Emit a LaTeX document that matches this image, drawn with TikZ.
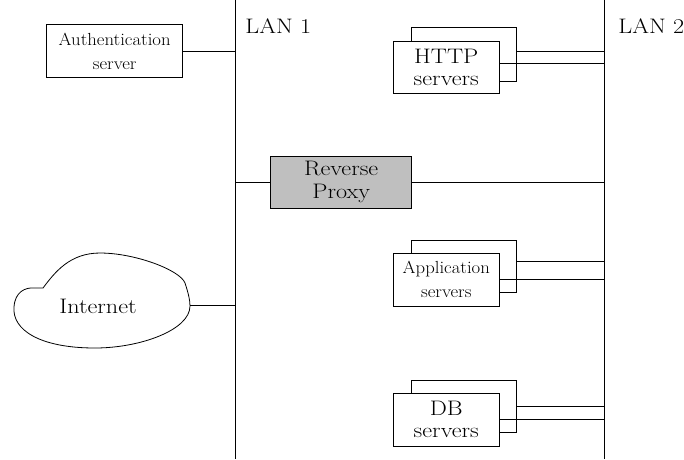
\documentclass[tikz,border=0pt]{standalone}
\usepackage{fontspec}
\setmainfont{Latin Modern Roman}[FakeStretch=1.15]
\newfontfamily\smallfnt{Latin Modern Roman}[FakeStretch=1.07]
\begin{document}
\begin{tikzpicture}[x=1pt,y=-1pt,line width=0.8pt,
  box/.style={draw,fill=white,inner sep=0pt,align=center},
  big/.style={font=\fontsize{21}{22.5}\selectfont},
  small/.style={font=\smallfnt\fontsize{17.5}{24}\selectfont},
  conn/.style={draw}]
\useasboundingbox (0,0) rectangle (684,459);
% LAN lines
\coordinate (l1t) at (235,0); \coordinate (l1b) at (235,459);
\coordinate (l2t) at (604,0); \coordinate (l2b) at (604,459);
\draw (l1t) -- (l1b);
\draw (l2t) -- (l2b);
\node[big,anchor=base west,inner sep=0pt] (lan1) at (245,33) {LAN 1};
\node[big,anchor=base west,inner sep=0pt] (lan2) at (618,33) {LAN 2};
% Authentication server
\node[box,small,minimum width=136,minimum height=53] (auth) at (114.7,51) {Authentication\\server};
\draw (auth.east) -- (auth.east -| l1t);
% HTTP servers
\node[box,minimum width=105,minimum height=54] (httpB) at (464.2,54.5) {};
\draw ([yshift=3.5pt]httpB.east) -- ([yshift=3.5pt]httpB.east -| l2t);
\node[box,big,minimum width=106,minimum height=52] (httpF) at (446.3,67.5) {HTTP\\servers};
\draw ([yshift=4.5pt]httpF.east) -- ([yshift=4.5pt]httpF.east -| l2t);
% Reverse proxy
\node[box,big,fill=black!25,minimum width=141,minimum height=52] (proxy) at (341.2,182.2) {Reverse\\Proxy};
\draw (proxy.west) -- (proxy.west -| l1t);
\draw (proxy.east) -- (proxy.east -| l2t);
% Application servers
\node[box,minimum width=105,minimum height=52] (appB) at (464.2,266) {};
\draw ([yshift=4.3pt]appB.east) -- ([yshift=4.3pt]appB.east -| l2t);
\node[box,small,minimum width=106,minimum height=53] (appF) at (446.3,279.5) {Application\\servers};
\draw (appF.east) -- (appF.east -| l2t);
% DB servers
\node[box,minimum width=105,minimum height=52] (dbB) at (464.2,406) {};
\draw ([yshift=-0.7pt]dbB.east) -- ([yshift=-0.7pt]dbB.east -| l2t);
\node[box,big,minimum width=106,minimum height=53] (dbF) at (446.3,419.5) {DB\\servers};
\draw (dbF.east) -- (dbF.east -| l2t);
% Internet cloud
\draw (43,288) .. controls (55,272) and (70,253) .. (100,253)
  .. controls (135,253) and (180,270) .. (185,283)
  .. controls (188,292) and (190,300) .. (190,306)
  .. controls (190,330) and (140,348) .. (95,348)
  .. controls (40,348) and (12,330) .. (14,307)
  .. controls (15,292) and (25,287) .. (35,288) -- (43,288);
\coordinate (cloudE) at (190,305.5);
\node[big] (inet) at (98,306) {Internet};
\draw (cloudE) -- (cloudE -| l1t);
\end{tikzpicture}
\end{document}
